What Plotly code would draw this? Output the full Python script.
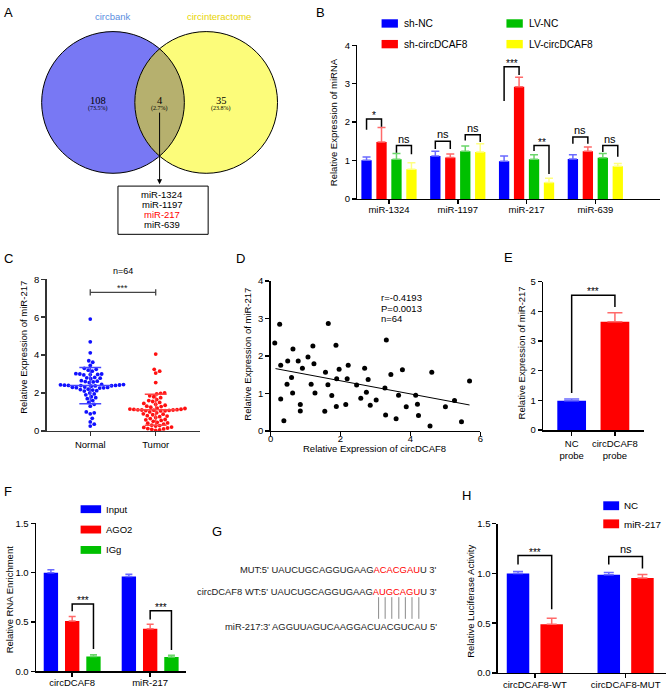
import numpy as np
import plotly.graph_objects as go

W, H = 669, 693
FONT = "Liberation Sans, Arial, Helvetica, sans-serif"
SERIF = "Liberation Serif, Times New Roman, serif"

# ======================= DATA =======================
# A: Venn
venn_sets = ["circbank", "circinteractome"]
venn_counts = [108, 4, 35]
venn_pcts = ["73.5%", "2.7%", "23.8%"]
venn_mirnas = ["miR-1324", "miR-1197", "miR-217", "miR-639"]
venn_highlight = "miR-217"

# B: miRNA expression
b_groups = ["miR-1324", "miR-1197", "miR-217", "miR-639"]
b_series = ["sh-NC", "sh-circDCAF8", "LV-NC", "LV-circDCAF8"]
b_sh_nc = [1.01, 1.12, 0.98, 1.04]
b_sh_nc_err = [0.08, 0.12, 0.14, 0.11]
b_sh_circ = [1.48, 1.08, 2.92, 1.24]
b_sh_circ_err = [0.38, 0.09, 0.25, 0.11]
b_lv_nc = [1.03, 1.24, 1.03, 1.07]
b_lv_nc_err = [0.15, 0.14, 0.12, 0.11]
b_lv_circ = [0.77, 1.22, 0.43, 0.85]
b_lv_circ_err = [0.17, 0.22, 0.11, 0.07]
b_br_group = [0, 0, 1, 1, 2, 2, 3, 3]
b_br_left = [0, 2, 0, 2, 0, 2, 0, 2]
b_br_right = [1, 3, 1, 3, 1, 3, 1, 3]
b_br_top = [2.08, 1.39, 1.50, 1.67, 3.44, 1.39, 1.61, 1.39]
b_br_leg_left = [1.80, 1.20, 1.30, 1.52, 2.55, 1.25, 1.44, 1.22]
b_br_leg_right = [1.88, 1.16, 1.30, 1.48, 3.23, 0.65, 1.44, 1.10]
b_br_label = ["*", "ns", "ns", "ns", "***", "**", "ns", "ns"]

# C: normal vs tumor
c_groups = ["Normal", "Tumor"]
c_normal = [5.90, 4.70, 4.12, 3.70, 3.62, 3.45,
            3.30, 3.25, 3.20, 3.15,
            3.00, 3.02, 2.98, 2.97, 3.00, 2.95,
            2.80, 2.82, 2.78, 2.75,
            2.60, 2.62, 2.58, 2.55, 2.65,
            2.45, 2.44, 2.43, 2.42, 2.41, 2.40, 2.40, 2.39, 2.38, 2.37, 2.36,
            2.30, 2.31, 2.29, 2.28, 2.27, 2.26,
            2.20, 2.18, 2.15, 2.12, 2.10,
            2.00, 1.95, 1.90,
            1.80, 1.75, 1.70,
            1.60, 1.50,
            1.40, 1.30,
            1.00, 0.95, 0.90, 0.66, 0.47, 0.35, 0.25]
c_tumor = [4.05, 3.25, 3.15, 3.05, 2.55, 2.00, 1.98, 1.95, 1.85, 1.80,
           1.75, 1.65, 1.60, 1.55, 1.50, 1.45, 1.40, 1.35, 1.30, 1.28,
           1.25, 1.20, 1.18, 1.15, 1.14, 1.13, 1.12, 1.11, 1.10, 1.10,
           1.09, 1.08, 1.07, 1.06, 1.05, 1.00, 0.95, 0.90, 0.88, 0.85,
           0.80, 0.78, 0.75, 0.70, 0.65, 0.60, 0.58, 0.55, 0.50, 0.45,
           0.42, 0.40, 0.35, 0.30, 0.28, 0.25, 0.20, 0.18, 0.15, 0.12,
           0.10, 0.08, 0.05, 0.03]
c_n_label = "n=64"
c_sig_label = "***"
c_sig_y = 7.31

# D: correlation
d_circ = [0.12, 0.26, 0.29, 0.29, 0.38, 0.49, 0.47, 0.60, 0.64, 0.63,
          0.79, 0.85, 0.85, 0.91, 1.07, 1.16, 1.21, 1.24, 1.27, 1.55,
          1.57, 1.65, 1.64, 1.75, 1.87, 1.89, 1.88, 1.96, 2.15, 2.19,
          2.22, 2.46, 2.58, 2.69, 2.79, 2.74, 2.85, 3.02, 3.27, 3.31,
          3.29, 3.44, 3.59, 3.66, 3.77, 3.88, 4.15, 4.20, 4.23, 4.56,
          4.61, 5.00, 5.26, 5.69, 5.46]
d_mir = [2.34, 2.84, 1.75, 0.85, 0.27, 1.86, 1.24, 1.42, 2.18, 1.01,
         1.86, 0.70, 0.53, 1.67, 1.97, 1.24, 2.26, 1.79, 1.01, 0.52,
         1.56, 2.86, 1.23, 0.94, 2.28, 1.39, 0.65, 1.64, 0.70, 1.39,
         1.75, 1.22, 0.87, 1.67, 1.37, 1.03, 0.68, 0.82, 1.14, 2.42,
         0.42, 1.50, 0.32, 0.95, 1.63, 0.64, 0.95, 0.71, 0.41, 0.13,
         1.56, 0.64, 0.81, 1.33, 0.24]
d_fit_x = [0.14, 5.69]
d_fit_y = [1.66, 0.69]
d_stats = ["r=-0.4193", "P=0.0013", "n=64"]

# E: pulldown
e_labels = ["NC<br>probe", "circDCAF8<br>probe"]
e_vals = [0.99, 3.65]
e_errs = [0.06, 0.30]
e_br_top = 4.54
e_br_leg_left = 1.25
e_br_leg_right = 4.14
e_br_label = "***"

# F: RIP
f_groups = ["circDCAF8", "miR-217"]
f_series = ["Input", "AGO2", "IGg"]
f_input = [1.00, 0.96]
f_input_err = [0.03, 0.025]
f_ago2 = [0.51, 0.43]
f_ago2_err = [0.045, 0.048]
f_igg = [0.15, 0.146]
f_igg_err = [0.017, 0.017]
f_br_group = [0, 1]
f_br_top = [0.682, 0.615]
f_br_leg_left = [0.609, 0.526]
f_br_leg_right = [0.226, 0.216]
f_br_label = ["***", "***"]

# G: binding site
g_mut = ["MUT:5' UAUCUGCAGGUGAAG", "ACACGAU", "U 3'"]
g_wt = ["circDCAF8 WT:5' UAUCUGCAGGUGAAG", "AUGCAGU", "U 3'"]
g_mir = "miR-217:3' AGGUUAGUCAAGGACUACGUCAU 5'"

# H: luciferase
h_groups = ["circDCAF8-WT", "circDCAF8-MUT"]
h_series = ["NC", "miR-217"]
h_nc = [1.00, 0.986]
h_nc_err = [0.02, 0.023]
h_mir = [0.49, 0.953]
h_mir_err = [0.06, 0.036]
h_br_group = [0, 1]
h_br_top = [1.18, 1.17]
h_br_leg_left = [1.09, 1.09]
h_br_leg_right = [0.64, 1.05]
h_br_label = ["***", "ns"]

# ======================= STYLE / HELPERS =======================
BLUE, RED, GREEN, YELLOW = "#0000ff", "#ff0000", "#00c000", "#ffff00"
ERRC = {BLUE: "#6a6aff", RED: "#ff6a6a", GREEN: "#6ad66a", YELLOW: "#ffff80"}


def px(x):
    return x / W


def py(y):
    return 1 - y / H


traces = []
anns = []
shapes = []
layout_axes = {}


def text(x, y, s, size=9.5, color="black", xanchor="center", yanchor="middle",
         family=FONT, **kw):
    anns.append(dict(x=px(x), y=py(y), xref="paper", yref="paper", text=s,
                     showarrow=False, xanchor=xanchor, yanchor=yanchor,
                     font=dict(family=family, size=size, color=color), **kw))


def rect(x0, y0, x1, y1, fill, line=None, lw=0):
    shapes.append(dict(type="rect", xref="paper", yref="paper",
                       x0=px(x0), x1=px(x1), y0=py(y1), y1=py(y0),
                       fillcolor=fill, line=dict(color=line or fill, width=lw),
                       layer="above"))


def add_axes(idx, xpx, ypx, xr, yr, xkw=None, ykw=None):
    xn = "xaxis" if idx == 1 else f"xaxis{idx}"
    yn = "yaxis" if idx == 1 else f"yaxis{idx}"
    xa = "x" if idx == 1 else f"x{idx}"
    ya = "y" if idx == 1 else f"y{idx}"
    base = dict(showline=True, linecolor="black", linewidth=1.5, ticks="outside",
                ticklen=4, tickwidth=1.5, tickcolor="black", showgrid=False,
                zeroline=False, fixedrange=True,
                tickfont=dict(family=FONT, size=9.5, color="black"))
    xd = dict(base, domain=[px(xpx[0]), px(xpx[1])], range=xr, anchor=ya)
    xd.update(xkw or {})
    yd = dict(base, domain=[py(ypx[1]), py(ypx[0])], range=yr, anchor=xa)
    yd.update(ykw or {})
    layout_axes[xn] = xd
    layout_axes[yn] = yd
    return xa, ya


def bars(xa, ya, vals, errs, color, i, k, slot, width, cap):
    pos = np.arange(len(vals))
    off = (i - (k - 1) / 2) * slot - width / 2
    traces.append(go.Bar(
        x=pos, y=vals, width=[width] * len(vals), offset=[off] * len(vals),
        marker=dict(color=color, line=dict(width=0)),
        error_y=dict(type="data", array=errs, arrayminus=[0] * len(vals),
                     symmetric=False, color=ERRC[color], thickness=1.5, width=cap),
        xaxis=xa, yaxis=ya, showlegend=False, hoverinfo="skip"))


def bracket(xa, ya, x1, x2, top, l1, l2, label, color="black"):
    traces.append(go.Scatter(x=[x1, x1, x2, x2], y=[l1, top, top, l2], mode="lines",
                             line=dict(color=color, width=1.5), xaxis=xa, yaxis=ya,
                             showlegend=False, hoverinfo="skip"))
    ns = label == "ns"
    anns.append(dict(x=(x1 + x2) / 2, y=top, xref=xa, yref=ya, text=label,
                     showarrow=False, yanchor="bottom", yshift=-1 if ns else -4,
                     font=dict(family=FONT, size=11 if ns else 10, color="black")))


def swarm(vals, xscale, yscale, d=4.0, step=0.5):
    vals = np.asarray(vals, float)
    off = np.zeros(len(vals))
    placed = []
    for i in np.argsort(vals):
        y = vals[i] * yscale
        k = 0
        while True:
            cands = [0.0] if k == 0 else [k * step, -k * step]
            hit = None
            for c in cands:
                if all((c - a) ** 2 + (y - b) ** 2 >= d * d for a, b in placed):
                    hit = c
                    break
            if hit is not None:
                off[i] = hit / xscale
                placed.append((hit, y))
                break
            k += 1
    return off


# ======================= PANEL A (Venn) =======================
LC, RC, CY, R = 111, 205, 98, 72
shapes.append(dict(type="circle", xref="paper", yref="paper", x0=px(LC - R), x1=px(LC + R),
                   y0=py(CY + R), y1=py(CY - R), fillcolor="#7878f4", line=dict(width=0)))
shapes.append(dict(type="circle", xref="paper", yref="paper", x0=px(RC - R), x1=px(RC + R),
                   y0=py(CY + R), y1=py(CY - R), fillcolor="#fcfc7a", line=dict(width=0)))
th = np.arccos(((RC - LC) / 2) / R)
t1 = np.linspace(-th, th, 60)
t2 = np.linspace(np.pi - th, np.pi + th, 60)
lx = np.concatenate([LC + R * np.cos(t1), RC + R * np.cos(t2)])
ly = np.concatenate([CY + R * np.sin(t1), CY + R * np.sin(t2)])
path = "M " + " L ".join(f"{px(a):.5f},{py(b):.5f}" for a, b in zip(lx, ly)) + " Z"
shapes.append(dict(type="path", xref="paper", yref="paper", path=path,
                   fillcolor="#b6b06e", line=dict(width=0)))
for c in (LC, RC):
    shapes.append(dict(type="circle", xref="paper", yref="paper", x0=px(c - R), x1=px(c + R),
                       y0=py(CY + R), y1=py(CY - R), line=dict(color="black", width=1)))
text(111, 11, venn_sets[0], size=9.5, color="#5a8ee0")
text(218, 11, venn_sets[1], size=9.5, color="#e8d400")
for cx_, n, p in zip([96, 158, 220], venn_counts, venn_pcts):
    text(cx_, 96, str(n), size=10.5, family=SERIF)
    text(cx_, 104, f"({p})", size=6, family=SERIF)
anns.append(dict(x=px(158), y=py(181), xref="paper", yref="paper", ax=0, ay=-73,
                 text="", showarrow=True, arrowhead=2, arrowsize=1, arrowwidth=1,
                 arrowcolor="black", standoff=0))
shapes.append(dict(type="rect", xref="paper", yref="paper", x0=px(116), x1=px(207),
                   y0=py(232), y1=py(183), line=dict(color="black", width=1)))
for j, m in enumerate(venn_mirnas):
    text(160, 192 + 10 * j, m, size=9.5, color=RED if m == venn_highlight else "black")

# ======================= PANEL B =======================
xa, ya = add_axes(1, (357.7, 663), (40, 196), [-0.458, 3.941], [0, 4],
                  xkw=dict(tickvals=list(range(len(b_groups))), ticktext=b_groups,
                           ticklabelstandoff=-3),
                  ykw=dict(dtick=1))
B_SLOT, B_W = 0.2176, 0.150
b_vals = [b_sh_nc, b_sh_circ, b_lv_nc, b_lv_circ]
b_errs = [b_sh_nc_err, b_sh_circ_err, b_lv_nc_err, b_lv_circ_err]
b_cols = [BLUE, RED, GREEN, YELLOW]
for i in range(4):
    bars(xa, ya, b_vals[i], b_errs[i], b_cols[i], i, 4, B_SLOT, B_W, 4)
for g, l, r, top, ll, lr, lab in zip(b_br_group, b_br_left, b_br_right, b_br_top,
                                     b_br_leg_left, b_br_leg_right, b_br_label):
    bracket(xa, ya, g + (l - 1.5) * B_SLOT, g + (r - 1.5) * B_SLOT, top, ll, lr, lab)
text(333, 118, "Relative Expression of miRNA", textangle=-90)
for j, (name, col) in enumerate(zip(b_series, b_cols)):
    colx = [382, 508][j // 2]
    rowy = [13.5, 34.5][j % 2]
    rect(colx, rowy, colx + 16.5, rowy + 8.5, col)
    text(colx + 21, rowy + 4.5, name, size=10.2, xanchor="left")

# ======================= PANEL C =======================
xa, ya = add_axes(2, (44, 199), (277.7, 431.7), [-0.667, 1.68], [0, 8],
                  xkw=dict(tickvals=[0, 1], ticktext=c_groups,
                           linecolor="#333333", tickcolor="#333333"),
                  ykw=dict(dtick=2, linecolor="#333333", tickcolor="#333333"))
for gi, (vals, col, lc) in enumerate([(c_normal, "#1010ff", "#4444ff"),
                                      (c_tumor, "#ff1010", "#ff4444")]):
    offs = swarm(vals, 66.0, 19.25, d=4.0)
    traces.append(go.Scatter(x=gi + offs, y=vals, mode="markers",
                             marker=dict(color=col, size=3.8, line=dict(width=0)),
                             xaxis=xa, yaxis=ya, showlegend=False, hoverinfo="skip",
                             cliponaxis=False))
    m = float(np.mean(vals))
    s = float(np.std(vals, ddof=1))
    traces.append(go.Scatter(
        x=[gi - 0.33, gi + 0.33, None, gi, gi, None, gi - 0.167, gi + 0.167, None,
           gi - 0.167, gi + 0.167],
        y=[m, m, None, m - s, m + s, None, m + s, m + s, None, m - s, m - s],
        mode="lines", line=dict(color=lc, width=1.5), xaxis=xa, yaxis=ya,
        showlegend=False, hoverinfo="skip"))
traces.append(go.Scatter(x=[0, 0, None, 0, 1, None, 1, 1],
                         y=[c_sig_y - 0.17, c_sig_y + 0.17, None, c_sig_y, c_sig_y, None,
                            c_sig_y - 0.17, c_sig_y + 0.17],
                         mode="lines", line=dict(color="#444444", width=1.3),
                         xaxis=xa, yaxis=ya, showlegend=False, hoverinfo="skip"))
anns.append(dict(x=0.5, y=c_sig_y, xref=xa, yref=ya, text=c_sig_label, showarrow=False,
                 yanchor="bottom", yshift=-3, font=dict(family=FONT, size=9, color="#222")))
text(121, 269.5, c_n_label, size=9)
text(20.5, 347, "Relative Expression of miR-217", textangle=-90)

# ======================= PANEL D =======================
xa, ya = add_axes(3, (270, 481.7), (279.3, 431.7), [0, 6], [0, 4],
                  xkw=dict(dtick=2, ticklabelstandoff=-6), ykw=dict(dtick=1))
traces.append(go.Scatter(x=d_circ, y=d_mir, mode="markers",
                         marker=dict(color="black", size=5, line=dict(width=0)),
                         xaxis=xa, yaxis=ya, showlegend=False, hoverinfo="skip",
                         cliponaxis=False))
traces.append(go.Scatter(x=d_fit_x, y=d_fit_y, mode="lines",
                         line=dict(color="black", width=1), xaxis=xa, yaxis=ya,
                         showlegend=False, hoverinfo="skip"))
for j, s in enumerate(d_stats):
    text(379, 296.7 + 10.5 * j, s, size=9.5, xanchor="left")
text(246.5, 354, "Relative Expression of miR-217", textangle=-90)
text(375, 450, "Relative Expression of circDCAF8")

# ======================= PANEL E =======================
xa, ya = add_axes(4, (545, 646.7), (280, 431), [-0.66, 1.67], [0, 5],
                  xkw=dict(tickvals=[0, 1], ticktext=e_labels), ykw=dict(dtick=1))
for i, (v, e, col) in enumerate(zip(e_vals, e_errs, [BLUE, RED])):
    traces.append(go.Bar(x=[i], y=[v], width=[0.664], offset=[-0.332],
                         marker=dict(color=col, line=dict(width=0)),
                         error_y=dict(type="data", array=[e], arrayminus=[0], symmetric=False,
                                      color=ERRC[col], thickness=1.5, width=7.5),
                         xaxis=xa, yaxis=ya, showlegend=False, hoverinfo="skip"))
bracket(xa, ya, 0, 1, e_br_top, e_br_leg_left, e_br_leg_right, e_br_label)
text(522.7, 353, "Relative Expression of miR-217", textangle=-90)

# ======================= PANEL F =======================
xa, ya = add_axes(5, (33.3, 185), (525.7, 676), [-0.464, 1.464], [0, 1.5],
                  xkw=dict(tickvals=[0, 1], ticktext=f_groups, ticklabelstandoff=-2),
                  ykw=dict(dtick=0.5, tickformat=".1f"))
F_SLOT, F_W = 0.273, 0.184
f_vals = [f_input, f_ago2, f_igg]
f_errs = [f_input_err, f_ago2_err, f_igg_err]
f_cols = [BLUE, RED, GREEN]
for i in range(3):
    bars(xa, ya, f_vals[i], f_errs[i], f_cols[i], i, 3, F_SLOT, F_W, 3.5)
for g, top, ll, lr, lab in zip(f_br_group, f_br_top, f_br_leg_left, f_br_leg_right, f_br_label):
    bracket(xa, ya, g, g + F_SLOT, top, ll, lr, lab)
for j, (name, col) in enumerate(zip(f_series, f_cols)):
    y0 = 507.3 + 20.7 * j
    rect(78.3, y0, 99, y0 + 8, col)
    text(101.5, y0 + 4, name, size=9.5, xanchor="left")
text(7.5, 602.5, "Relative RNA Enrichment", textangle=-90)

# ======================= PANEL G =======================
RED_SPAN = "<span style='color:#ff0000'>{}</span>"
text(439.5, 572.3, g_mut[0] + RED_SPAN.format(g_mut[1]) + g_mut[2], size=9.4,
     xanchor="right", color="#222222")
text(439.5, 595, g_wt[0] + RED_SPAN.format(g_wt[1]) + g_wt[2], size=9.4,
     xanchor="right", color="#222222")
text(439.5, 631, g_mir, size=9.4, xanchor="right", color="#222222")
for lxp in [379, 385.6, 392.3, 399.4, 406, 412.7, 419.6]:
    shapes.append(dict(type="line", xref="paper", yref="paper", x0=px(lxp), x1=px(lxp),
                       y0=py(622.7), y1=py(600.7), line=dict(color="#8a8a8a", width=1)))

# ======================= PANEL H =======================
xa, ya = add_axes(6, (499.3, 669), (526, 677.7), [-0.408, 1.445], [0, 1.5],
                  xkw=dict(tickvals=[0, 1], ticktext=h_groups, ticklabelstandoff=-2),
                  ykw=dict(dtick=0.5, tickformat=".1f"))
H_SLOT, H_W = 0.371, 0.248
h_vals = [h_nc, h_mir]
h_errs = [h_nc_err, h_mir_err]
h_cols = [BLUE, RED]
for i in range(2):
    bars(xa, ya, h_vals[i], h_errs[i], h_cols[i], i, 2, H_SLOT, H_W, 5)
for g, top, ll, lr, lab in zip(h_br_group, h_br_top, h_br_leg_left, h_br_leg_right, h_br_label):
    bracket(xa, ya, g - H_SLOT / 2, g + H_SLOT / 2, top, ll, lr, lab)
for j, (name, col) in enumerate(zip(h_series, h_cols)):
    y0 = 503.3 + 18.4 * j
    rect(605.7, y0, 621.7, y0 + 9, col)
    text(624.5, y0 + 4.7, name, size=9.8, xanchor="left")
text(471.7, 605, "Relative Luciferase Activity", textangle=-90)

# ======================= PANEL LETTERS =======================
for letter, x, y in [("A", 6, 7), ("B", 320, 7), ("C", 6, 257), ("D", 240, 257),
                     ("E", 510, 256), ("F", 5, 493), ("G", 216, 534), ("H", 467.5, 497)]:
    text(x, y, letter, size=13)

fig = go.Figure(data=traces)
fig.update_layout(width=W, height=H, autosize=False,
                  margin=dict(l=0, r=0, t=0, b=0, pad=0),
                  paper_bgcolor="white", plot_bgcolor="white",
                  font=dict(family=FONT, size=9.5, color="black"),
                  showlegend=False, barmode="overlay",
                  annotations=anns, shapes=shapes, **layout_axes)
fig.write_html("out.html",
               config={"displayModeBar": False, "staticPlot": True},
               post_script="document.body.style.margin='0px';"
                           "document.body.style.padding='0px';"
                           "document.body.style.overflow='hidden';")
